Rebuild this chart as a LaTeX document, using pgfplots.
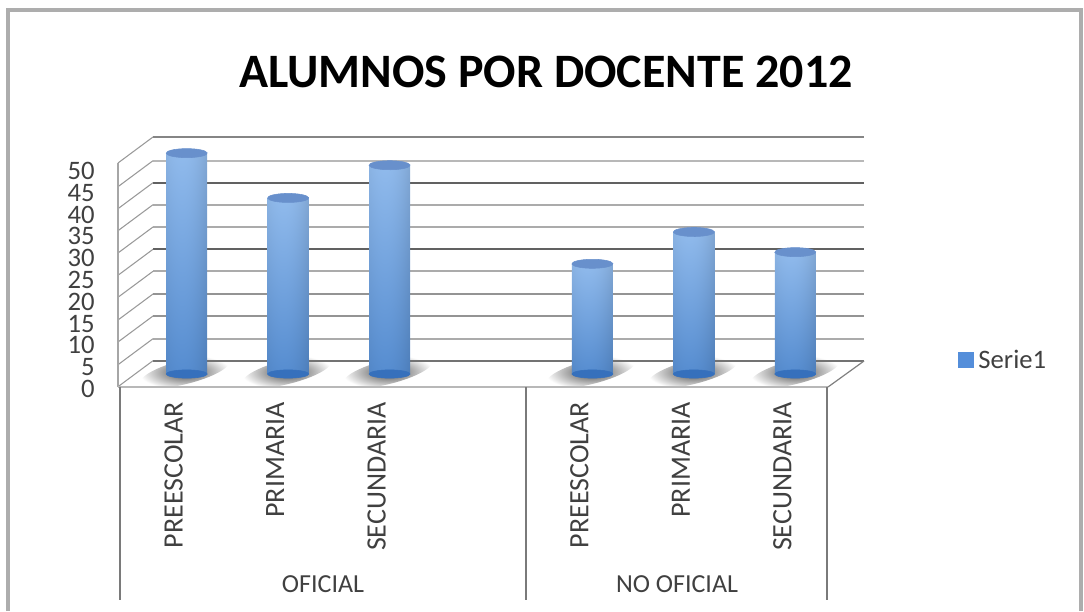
\documentclass[border=0pt]{standalone}
\usepackage{fontspec}
\setmainfont{Carlito}
\usepackage{pgfplots}
\pgfplotsset{compat=1.18}
\definecolor{txt}{HTML}{404040}
\definecolor{capc}{RGB}{104,144,204}
\definecolor{basec}{RGB}{54,112,188}
\definecolor{legc}{RGB}{84,142,218}
\pgfdeclarefunctionalshading{cyl}{\pgfpoint{-50bp}{-50bp}}{\pgfpoint{50bp}{50bp}}{}{
 50 add 100 div
 exch 6 add 56 div dup mul 0.36 mul 1 exch sub
 exch
 2 copy 0.46 mul 0.22 add mul
 3 1 roll
 2 copy 0.36 mul 0.46 add mul
 3 1 roll
 0.22 mul 0.76 add mul
}
\newcommand{\gl}[2]{\draw[color=#2,line width=1.4pt] (153,#1) -- (864,#1);}
\newcommand{\sh}[1]{\shade[inner color=black!70,outer color=white,rotate around={14:(#1,372)}] (#1,372) ellipse [x radius=46,y radius=12];}
\begin{document}
\begin{tikzpicture}
\path[use as bounding box] (0pt,0pt) rectangle (813pt,458.25pt);
\begin{scope}[x=0.75pt,yshift=458.25pt,y=-0.75pt]
 % frame
 \draw[color=black!32,line width=2.6pt] (8,611) -- (8,10) -- (1081,10) -- (1081,611);
 % floor shadows
 \foreach \c in {185,287,388,591,693,795}{\sh{\c}}
 % back wall
 \gl{137}{black!48}\gl{160.7}{black!28}\gl{182.7}{black!62}\gl{204.7}{black!33}\gl{227}{black!33}
 \gl{249.3}{black!62}\gl{271.3}{black!33}\gl{294}{black!42}\gl{316}{black!42}\gl{338.7}{black!33}\gl{360.7}{black!55}
 % side wall
 \foreach \v in {137,160.7,182.7,204.7,227,249.3,271.3,294,316,338.7,360.7}{
   \draw[color=black!40,line width=0.8pt] (153,\v) -- (118,\v+26);}
 \draw[color=black!35,line width=1pt] (118,163) -- (118,387);
 \draw[color=black!28,line width=1.5pt] (118,387) -- (828,387);
 \draw[color=black!50,line width=0.9pt] (828,387) -- (864,361);
 % category separators
 \foreach \c in {120,526,827}{\draw[color=black!52,line width=1pt] (\c,387) -- (\c,600);}
 % group labels
 \node[font=\fontsize{19.5}{22}\selectfont,text=txt] at (323,584) {OFICIAL};
 \node[font=\fontsize{19.5}{22}\selectfont,text=txt] at (677,584) {NO OFICIAL};
\end{scope}
% value tick labels
\begin{axis}[
  at={(71.25pt,166.5pt)},anchor=south west,scale only axis,
  width=10pt,height=163.5pt,
  xmin=0,xmax=1,ymin=0,ymax=50,
  xtick=\empty,ytick={0,5,...,50},
  axis line style={draw=none},tick style={draw=none},major tick length=0pt,
  yticklabel style={font=\fontsize{20}{21}\selectfont,text=txt,inner sep=0pt,/pgf/number format/assume math mode=true},
  ytick pos=left,
]
\end{axis}
\begin{axis}[
  at={(102pt,177.75pt)},anchor=south west,scale only axis,
  width=532.5pt,height=168pt,
  xmin=-0.5,xmax=6.5,ymin=0,ymax=50,
  clip=false,
  axis line style={draw=none},tick style={draw=none},major tick length=0pt,
  ytick=\empty,
  xtick={0,1,2,4,5,6},
  xticklabels={PREESCOLAR,PRIMARIA,SECUNDARIA,PREESCOLAR,PRIMARIA,SECUNDARIA},
  xticklabel style={font=\fontsize{21}{23}\selectfont,text=txt,rotate=90,anchor=east,inner sep=0pt,xshift=-21pt,yshift=9.75pt},
  xtick pos=bottom,
  title={\fontsize{36}{40}\selectfont\bfseries ALUMNOS POR DOCENTE 2012},
  title style={at={(0.5775,1.312)},anchor=center,inner sep=0pt},
  legend style={at={(1.158,0.062)},anchor=west,draw=none,fill=none,font=\fontsize{20}{22}\selectfont,text=txt,inner sep=0pt,legend cell align=left},
  legend image code/.code={\fill[#1] (0pt,-5.8pt) rectangle (11.5pt,5.8pt);},
]
% bases
\addplot[only marks,forget plot,mark=*,mark size=15.4pt,mark options={draw=basec,fill=basec,yscale=0.2}]
 coordinates {(0,0)(1,0)(2,0)(4,0)(5,0)(6,0)};
% bars
\addplot[ybar,forget plot,bar width=0.404,bar shift=0pt,draw=none,shading=cyl] coordinates {(0,49.3)};
\addplot[ybar,forget plot,bar width=0.404,bar shift=0pt,draw=none,shading=cyl] coordinates {(1,39.3)};
\addplot[ybar,forget plot,bar width=0.404,bar shift=0pt,draw=none,shading=cyl] coordinates {(2,46.6)};
\addplot[ybar,forget plot,bar width=0.404,bar shift=0pt,draw=none,shading=cyl] coordinates {(4,24.6)};
\addplot[ybar,forget plot,bar width=0.404,bar shift=0pt,draw=none,shading=cyl] coordinates {(5,31.7)};
\addplot[ybar,forget plot,bar width=0.404,bar shift=0pt,draw=none,shading=cyl] coordinates {(6,27.2)};
% caps
\addplot[only marks,forget plot,mark=*,mark size=15.4pt,mark options={draw=capc,fill=capc,yscale=0.22,rotate=4}]
 coordinates {(0,49.3)(1,39.3)(2,46.6)(4,24.6)(5,31.7)(6,27.2)};
\addlegendimage{fill=legc,draw=none}
\addlegendentry{\hspace{1.5pt}Serie1}
\end{axis}
\end{tikzpicture}
\end{document}
